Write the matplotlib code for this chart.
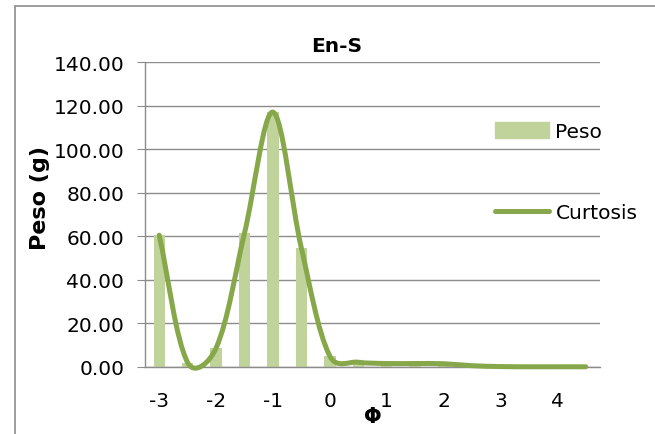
import numpy as np
import matplotlib
matplotlib.use('Agg')
import matplotlib.pyplot as plt
from matplotlib.path import Path
from matplotlib.patches import PathPatch, Rectangle
from matplotlib.lines import Line2D
from matplotlib.ticker import FormatStrFormatter

# data
phi = [-3, -2.5, -2, -1.5, -1, -0.5, 0, 0.5, 1, 1.5, 2, 2.5, 3, 3.5, 4, 4.5]
peso = [60.5, 2.0, 8.7, 61.5, 117.0, 54.5, 5.0, 2.2, 1.6, 1.6, 1.5, 0.6, 0.2, 0.1, 0.1, 0.1]
tick_labels = ['-3', '-2', '-1', '0', '1', '2', '3', '4']

bar_color = '#BFD39B'
line_color = '#86A84A'
grid_color = '#8C8C8C'
fs = 14.5


def excel_smooth(ax, xs, ys, w=0.5):
    # bezier through the points, control points roughly like Excel's smoothed line
    pts = ax.transData.transform(np.column_stack([xs, ys]))
    n = len(pts)

    def ctrl(i):
        p0, p1, p2 = pts[max(i - 1, 0)], pts[i], pts[min(i + 1, n - 1)]
        d01 = np.hypot(*(p1 - p0))
        d12 = np.hypot(*(p2 - p1))
        tot = (d01 + d12) or 1.0
        t = (p2 - p0) / 3
        f_in = w * d01 / tot + (1 - w) * 0.5
        f_out = w * d12 / tot + (1 - w) * 0.5
        if i == 0:
            f_out = 1.0
        if i == n - 1:
            f_in = 1.0
        return p1 - t * f_in, p1 + t * f_out

    verts = [pts[0]]
    codes = [Path.MOVETO]
    for i in range(n - 1):
        c1 = ctrl(i)[1]
        c2 = ctrl(i + 1)[0]
        verts += [c1, c2, pts[i + 1]]
        codes += [Path.CURVE4] * 3
    verts = ax.transData.inverted().transform(np.array(verts))
    return Path(verts, codes)


fig = plt.figure(figsize=(6.55, 4.35), dpi=100)
ax = fig.add_axes([145 / 655, 67 / 435, 455 / 655, 305 / 435])

x = np.arange(len(phi))
ax.set_xlim(-0.5, len(phi) - 0.5)
ax.set_ylim(0, 140)

ax.bar(x, peso, width=0.4, color=bar_color, zorder=2)
curve = excel_smooth(ax, x, peso)
ax.add_patch(PathPatch(curve, fill=False, edgecolor=line_color, lw=3.6,
                       capstyle='round', joinstyle='round', zorder=3, clip_on=False))

ax.set_yticks(range(0, 141, 20))
ax.yaxis.set_major_formatter(FormatStrFormatter('%.2f'))
ax.set_xticks(x[::2])
ax.set_xticklabels(tick_labels)
ax.tick_params(axis='x', length=0, pad=17, labelsize=fs)
ax.tick_params(axis='y', length=6, color=grid_color, pad=9, labelsize=fs)

ax.yaxis.grid(True, color=grid_color, lw=1.0)
ax.set_axisbelow(True)
for s in ['top', 'right']:
    ax.spines[s].set_visible(False)
for s in ['left', 'bottom']:
    ax.spines[s].set_color(grid_color)
    ax.spines[s].set_linewidth(1.0)

ax.set_ylabel('Peso (g)', fontsize=16, fontweight='bold')
ax.yaxis.set_label_coords((50 - 145) / 455, (368 - 198) / 305)
ax.set_xlabel('Φ', fontsize=15, fontweight='bold', va='center')
ax.xaxis.set_label_coords(0.5, (368 - 417) / 305)

fig.text(337 / 655, 1 - 47 / 435, 'En-S', ha='center', va='center',
         fontsize=fs, fontweight='bold')

handles = [Rectangle((0, 0), 1, 1, color=bar_color),
           Line2D([], [], color=line_color, lw=3.6, solid_capstyle='round')]
ax.legend(handles, ['Peso', 'Curtosis'], loc='upper left',
          bbox_to_anchor=(495 / 655, 1 - 123 / 435), bbox_transform=fig.transFigure,
          frameon=False, fontsize=fs, handlelength=2.7, handleheight=0.8,
          labelspacing=3.1, handletextpad=0.3, borderaxespad=0, borderpad=0)

# chart area border
fig.patches.append(Rectangle((15 / 655, -0.1), 1.2, 1.1 - 7 / 435,
                             transform=fig.transFigure, fill=False,
                             edgecolor=grid_color, lw=1.2))

fig.savefig('out.png', dpi=100)
